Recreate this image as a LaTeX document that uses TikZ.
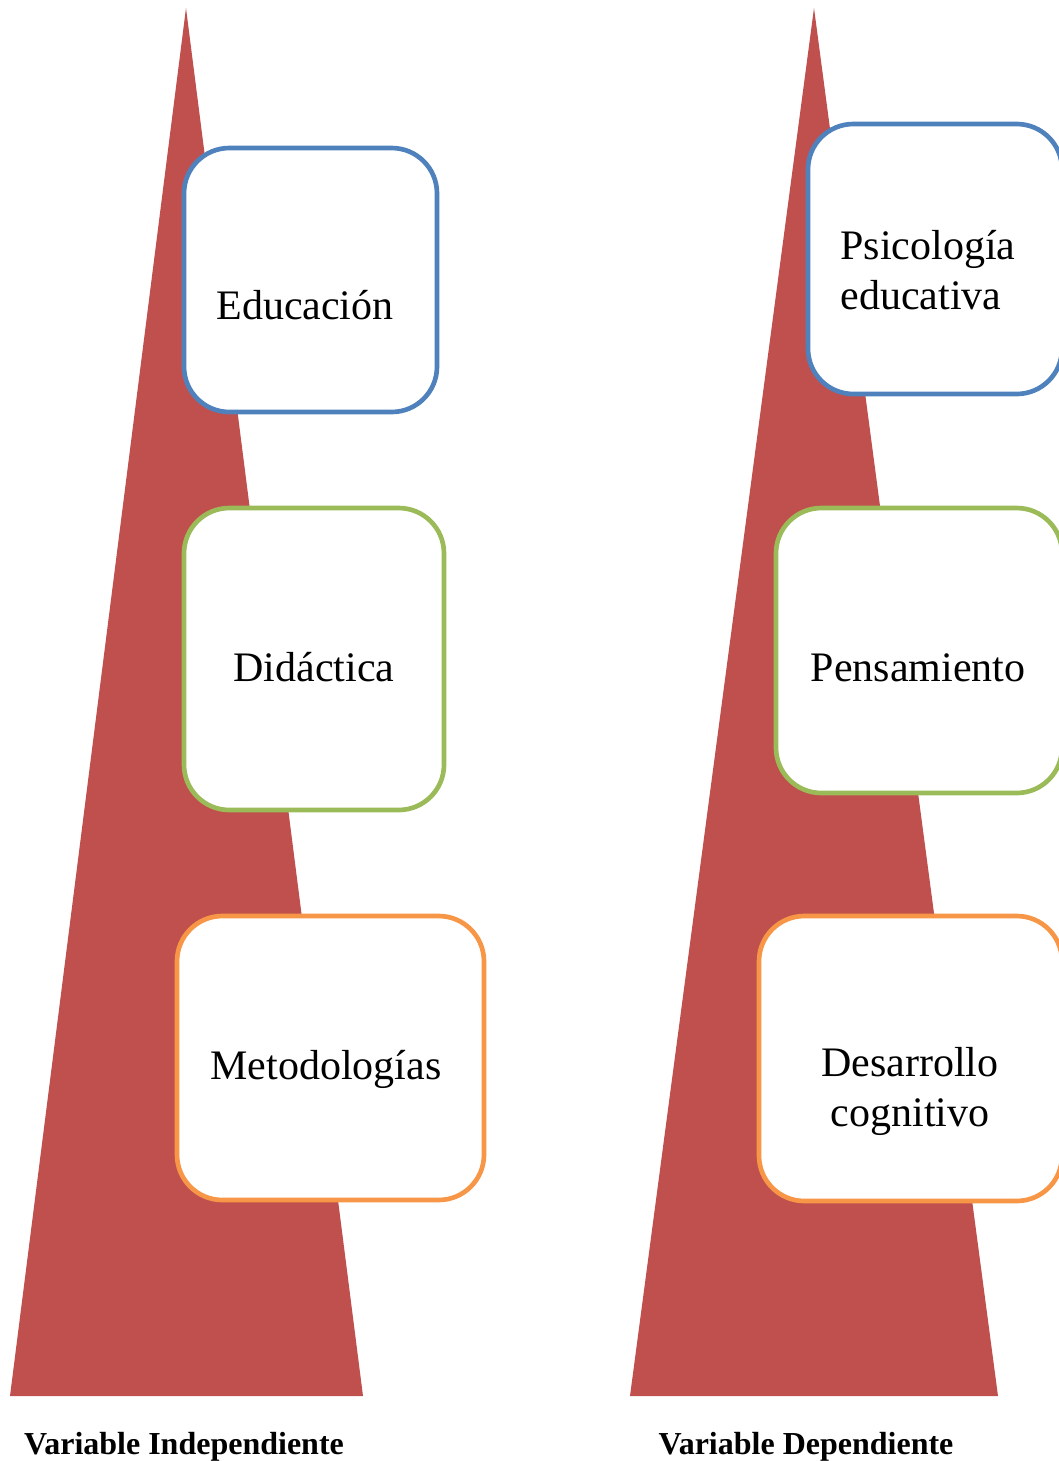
\documentclass[tikz,border=0pt]{standalone}
\usepackage{fontspec}
\setmainfont{Liberation Serif}

\definecolor{trired}{RGB}{192,80,77}
\definecolor{boxblue}{RGB}{79,129,189}
\definecolor{boxgreen}{RGB}{155,187,89}
\definecolor{boxorange}{RGB}{247,150,70}

\tikzset{every picture/.style={line width=0.75pt}}
\tikzset{
  conceptbox/.style={draw=#1, fill=white, line width=3.5pt, rounded corners=34pt, inner sep=0pt},
  concepttext/.style={inner sep=0.75pt, font=\fontsize{31.5}{37.5}\selectfont},
  vartext/.style={inner sep=0.75pt, font=\fontsize{24}{28}\selectfont\bfseries}
}

\begin{document}
\begin{tikzpicture}[x=0.75pt,y=0.75pt,yscale=-1,xscale=1]
\useasboundingbox (0,0) rectangle (1059,1461);
\clip (0,0) rectangle (1059,1461);

%Shape: Triangle left
\fill [trired] (186,8) -- (363,1396) -- (10,1396) -- cycle ;
%Shape: Triangle right
\fill [trired] (814,8) -- (998,1396) -- (630,1396) -- cycle ;

% Boxes, left column
\node [conceptbox=boxblue, minimum width=253*0.75pt, minimum height=264*0.75pt] (edu) at (310.5,280) {};
\node [conceptbox=boxgreen, minimum width=260*0.75pt, minimum height=302*0.75pt] (did) at (314,659) {};
\node [conceptbox=boxorange, minimum width=307*0.75pt, minimum height=284*0.75pt] (met) at (330.5,1058) {};
% Boxes, right column
\node [conceptbox=boxblue, minimum width=254*0.75pt, minimum height=270*0.75pt] (psi) at (935,259) {};
\node [conceptbox=boxgreen, minimum width=286*0.75pt, minimum height=285*0.75pt] (pen) at (919,650.5) {};
\node [conceptbox=boxorange, minimum width=303*0.75pt, minimum height=285*0.75pt] (des) at (910.5,1058.5) {};

% Text Node
\node [concepttext] (edutxt) at (305,305) {Educación};
% Text Node
\node [concepttext] (didtxt) at (314,667) {Didáctica};
% Text Node
\node [concepttext] (mettxt) at (326,1069) {Metodologías};
% Text Node
\node [concepttext, align=left] (psitxt) at (928,270) {Psicología\\educativa};
% Text Node
\node [concepttext] (pentxt) at (918,668) {Pensamiento};
% Text Node
\node [concepttext, align=center] (destxt) at (910,1091) {Desarrollo\\cognitivo};

% Text Node
\node [vartext] (indep) at (184,1447) {Variable Independiente};
% Text Node
\node [vartext] (dep) at (806,1447) {Variable Dependiente};

\end{tikzpicture}
\end{document}
